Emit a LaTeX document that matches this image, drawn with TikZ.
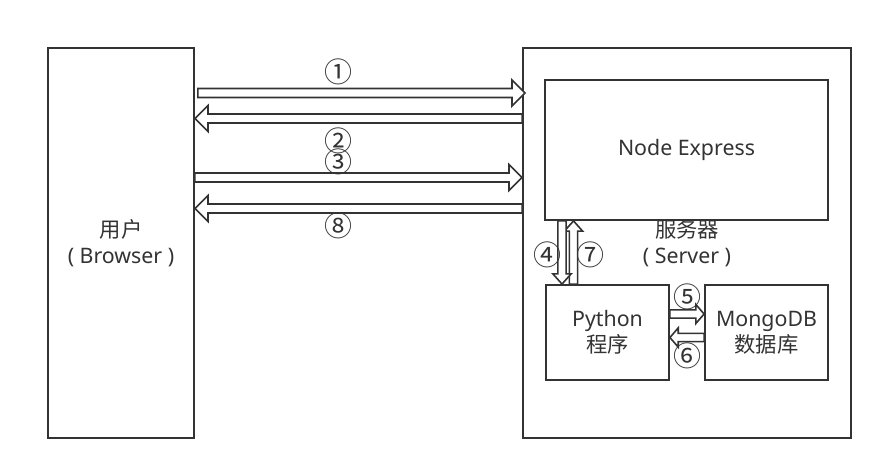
\documentclass[tikz,border=0pt]{standalone}
\usepackage{fontspec}
\setmainfont{Noto Sans}
\newfontfamily\cjk{Noto Sans CJK SC}
\usetikzlibrary{calc,positioning}
\definecolor{ln}{RGB}{51,51,51}
\begin{document}
\begin{tikzpicture}[x=0.75pt,y=-0.75pt,line join=miter,text=ln,
	font=\fontsize{16}{19.5}\selectfont,
	box/.style={draw=ln,line width=1.4pt,fill=white,align=center,inner sep=0pt},
	num/.style={font=\cjk\fontsize{21}{24}\selectfont,inner sep=0pt},
	ahw/.store in=\ahw,ahh/.store in=\ahh,ahl/.store in=\ahl,
	along/.style={shift={(\p1)},rotate=\n1},
	blk/.style={draw=ln,fill=white,line width=1.2pt,
		to path={let \p1=(\tikztostart),\p2=(\tikztotarget),
			\n1={atan2(\y2-\y1,\x2-\x1)},\n2={veclen(\x2-\x1,\y2-\y1)} in
			([along]0pt,\ahw)--([along]\n2-\ahl,\ahw)--([along]\n2-\ahl,\ahh)--([along]\n2,0pt)
			--([along]\n2-\ahl,-\ahh)--([along]\n2-\ahl,-\ahw)--([along]0pt,-\ahw)--cycle}},
	big/.style={blk,ahw=3.4pt,ahh=9.8pt,ahl=9.8pt},
	small/.style={blk,ahw=3.1pt,ahh=7.2pt,ahl=6.2pt}]
	\useasboundingbox (0,0) rectangle (883,471);
	\node[box,minimum width=246pt,minimum height=292.5pt] (server) at (687,243) {{\cjk 服务器}\\( Server )};
	\node[box,minimum width=212.25pt,minimum height=105pt] (express) at (686.5,150) {Node Express};
	\node[box,minimum width=92.25pt,minimum height=71.25pt] (python) at (607.5,332.5) {Python\\{\cjk 程序}};
	\node[box,minimum width=92.25pt,minimum height=71.25pt] (mongo) at (766.5,332.5) {MongoDB\\{\cjk 数据库}};
	\node[box,minimum width=109.5pt,minimum height=292.5pt] (user) at (121,243) {{\cjk 用户}\\( Browser )};
	
	\draw[big] ($(user.east|-0,93)+(3,0)$) to ($(server.west|-0,93)+(3,0)$);
	\draw[big] (server.west|-0,118.5) to (user.east|-0,118.5);
	\draw[big] (user.east|-0,177.5) to (server.west|-0,177.5);
	\draw[big] (server.west|-0,208.5) to (user.east|-0,208.5);
	\draw[small,ahh=6.8pt,ahl=7.6pt] (python.north-|573.5,0) to (express.south-|573.5,0);
	\draw[small,ahh=6.8pt,ahl=7.6pt] (express.south-|562,0) to (python.north-|562,0);
	\draw[small] (python.east|-0,314) to (mongo.west|-0,314);
	\draw[small] (mongo.west|-0,337.5) to (python.east|-0,337.5);
	
	\node[num] (n1) at (338,72) {①};
	\node[num] (n2) at (338,141) {②};
	\node[num] (n3) at (338,162) {③};
	\node[num] (n8) at (338,226) {⑧};
	\node[num] (n4) at (547,255) {④};
	\node[num] (n7) at (590,255) {⑦};
	\node[num] (n5) at (687,297) {⑤};
	\node[num] (n6) at (687,356) {⑥};
\end{tikzpicture}
\end{document}
